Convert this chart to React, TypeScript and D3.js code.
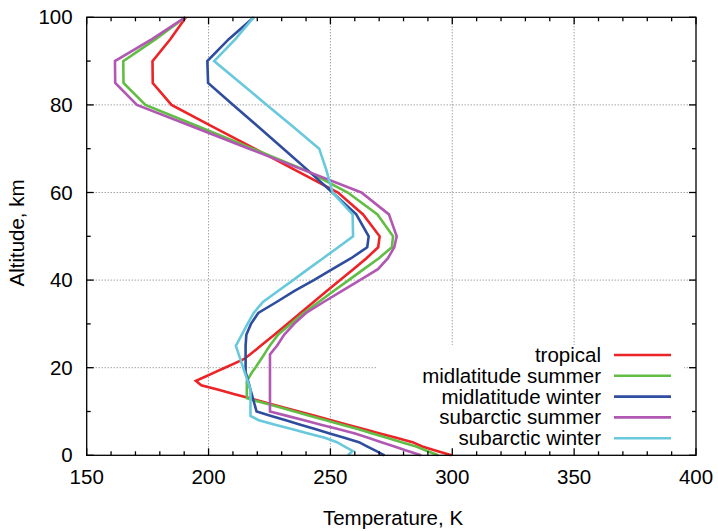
import * as d3 from 'd3';
import React, { useEffect, useRef } from 'react';

// AFGL standard atmospheres, temperature (K) against altitude (km)
const altitudes = [
  0, 1, 2, 3, 4, 5, 6, 7, 8, 9, 10, 11, 12, 13, 14, 15, 16, 17, 18, 19, 20, 21, 22, 23, 24, 25,
  27.5, 30, 32.5, 35, 37.5, 40, 42.5, 45, 47.5, 50, 55, 60, 65, 70, 75, 80, 85, 90, 95, 100,
];
const tropical = [
  299.7, 293.7, 287.7, 283.7, 277.0, 270.3, 263.6, 257.0, 250.3, 243.6, 237.0, 230.1, 223.6, 217.0,
  210.3, 203.7, 197.0, 194.8, 198.8, 202.7, 206.7, 210.7, 214.6, 217.0, 219.2, 221.4, 227.0, 232.3,
  237.7, 243.1, 248.5, 254.0, 259.4, 264.8, 269.6, 270.2, 263.4, 253.1, 236.0, 218.9, 201.8, 184.8,
  177.1, 177.0, 184.3, 190.7,
];
const midlatSummer = [
  294.2, 289.7, 285.2, 279.2, 273.2, 267.2, 261.2, 254.7, 248.2, 241.7, 235.3, 228.8, 222.3, 215.8,
  215.7, 215.7, 215.7, 215.7, 216.8, 217.9, 219.2, 220.4, 221.6, 222.8, 223.9, 225.1, 228.45, 233.7,
  239.0, 245.2, 251.3, 257.5, 263.7, 269.9, 275.2, 275.7, 269.3, 257.1, 240.1, 218.1, 196.1, 174.1,
  165.1, 165.0, 178.3, 190.5,
];
const midlatWinter = [
  272.2, 268.7, 265.2, 261.7, 255.7, 249.7, 243.7, 237.7, 231.7, 225.7, 219.7, 219.2, 218.7, 218.2,
  217.7, 217.2, 216.7, 216.2, 215.7, 215.2, 215.2, 215.2, 215.2, 215.2, 215.2, 215.2, 215.5, 217.4,
  220.4, 227.9, 235.1, 243.2, 250.8, 258.5, 265.1, 265.7, 260.6, 250.8, 240.9, 230.7, 220.4, 210.1,
  199.8, 199.5, 208.3, 218.6,
];
const subarcticSummer = [
  287.2, 281.7, 276.3, 270.9, 265.5, 260.1, 253.1, 246.1, 239.2, 232.2, 225.2, 225.2, 225.2, 225.2,
  225.2, 225.2, 225.2, 225.2, 225.2, 225.2, 225.2, 225.2, 225.2, 225.2, 226.6, 228.1, 231.0, 235.1,
  240.0, 247.2, 254.6, 262.1, 269.5, 273.6, 276.2, 277.2, 274.0, 262.7, 239.7, 216.6, 193.6, 170.6,
  161.7, 161.6, 176.8, 190.4,
];
const subarcticWinter = [
  257.2, 259.1, 255.9, 252.7, 247.7, 240.9, 234.1, 227.3, 220.6, 217.2, 217.2, 217.2, 217.2, 217.2,
  217.2, 217.2, 216.6, 216.0, 215.4, 214.8, 214.2, 213.6, 213.0, 212.4, 211.8, 211.2, 213.6, 216.0,
  218.5, 222.3, 228.5, 234.7, 240.8, 247.0, 253.2, 259.3, 259.1, 250.9, 248.4, 245.4, 234.7, 223.9,
  213.1, 202.3, 211.0, 218.5,
];

const seriesNames = [
  'tropical',
  'midlatitude summer',
  'midlatitude winter',
  'subarctic summer',
  'subarctic winter',
];
const seriesValues = [tropical, midlatSummer, midlatWinter, subarcticSummer, subarcticWinter];
const colors = ['#ec2327', '#62bd45', '#2f4d9f', '#b158b3', '#68c9dc'];

const xTicks = [150, 200, 250, 300, 350, 400];
const yTicks = [0, 20, 40, 60, 80, 100];

const W = 718;
const H = 531;
const M = { left: 86.7, right: 696, top: 17.3, bottom: 455.3 };
const FONT = '"Liberation Sans", Arial, sans-serif';

const App = () => {
  const svgRef = useRef(null);

  useEffect(() => {
    const svg = d3.select(svgRef.current);
    svg.selectAll('*').remove();

    const x = d3.scaleLinear().domain([150, 400]).range([M.left, M.right]);
    const y = d3.scaleLinear().domain([0, 100]).range([M.bottom, M.top]);

    // grid
    const grid = svg.append('g').attr('stroke', '#777').attr('stroke-width', 1).attr('stroke-dasharray', '1,2');
    xTicks.slice(1, -1).forEach((t) => {
      grid.append('line').attr('x1', x(t)).attr('x2', x(t)).attr('y1', M.top).attr('y2', M.bottom);
    });
    yTicks.slice(1, -1).forEach((t) => {
      grid.append('line').attr('x1', M.left).attr('x2', M.right).attr('y1', y(t)).attr('y2', y(t));
    });

    // opaque key box
    svg.append('rect').attr('x', 376).attr('y', 345).attr('width', 308).attr('height', 110).attr('fill', '#fff');

    // profiles
    const profile = d3
      .line<number>()
      .x((d) => x(d))
      .y((d, i) => y(altitudes[i]));
    seriesValues.forEach((vals, i) => {
      svg
        .append('path')
        .attr('d', profile(vals))
        .attr('fill', 'none')
        .attr('stroke', colors[i])
        .attr('stroke-width', 2.6)
        .attr('stroke-linejoin', 'miter');
    });

    // frame and ticks on all sides
    const frame = svg.append('g').attr('stroke', '#000').attr('stroke-width', 1.3);
    frame
      .append('rect')
      .attr('x', M.left)
      .attr('y', M.top)
      .attr('width', M.right - M.left)
      .attr('height', M.bottom - M.top)
      .attr('fill', 'none');
    d3.range(150, 401, 10).forEach((t) => {
      const len = t % 50 === 0 ? 7 : 4;
      frame.append('line').attr('x1', x(t)).attr('x2', x(t)).attr('y1', M.bottom).attr('y2', M.bottom - len);
      frame.append('line').attr('x1', x(t)).attr('x2', x(t)).attr('y1', M.top).attr('y2', M.top + len);
    });
    d3.range(0, 101, 10).forEach((t) => {
      const len = t % 20 === 0 ? 7 : 4;
      frame.append('line').attr('x1', M.left).attr('x2', M.left + len).attr('y1', y(t)).attr('y2', y(t));
      frame.append('line').attr('x1', M.right).attr('x2', M.right - len).attr('y1', y(t)).attr('y2', y(t));
    });

    // tick labels
    const labels = svg.append('g').attr('font-family', FONT).attr('font-size', 20.5).attr('fill', '#000');
    xTicks.forEach((t) => {
      labels.append('text').attr('x', x(t)).attr('y', M.bottom + 29).attr('text-anchor', 'middle').text(t);
    });
    yTicks.forEach((t) => {
      labels
        .append('text')
        .attr('x', M.left - 14)
        .attr('y', y(t) + 7)
        .attr('text-anchor', 'end')
        .text(t);
    });

    // axis titles
    labels
      .append('text')
      .attr('x', 393)
      .attr('y', 525)
      .attr('text-anchor', 'middle')
      .text('Temperature, K');
    labels
      .append('text')
      .attr('transform', 'translate(24,233) rotate(-90)')
      .attr('text-anchor', 'middle')
      .text('Altitude, km');

    // legend
    const legend = svg.append('g').attr('font-family', FONT).attr('font-size', 20.5);
    seriesNames.forEach((name, i) => {
      const cy = 355 + i * 20.8;
      legend
        .append('text')
        .attr('x', 601)
        .attr('y', cy + 7)
        .attr('text-anchor', 'end')
        .text(name);
      legend
        .append('line')
        .attr('x1', 614)
        .attr('x2', 671)
        .attr('y1', cy)
        .attr('y2', cy)
        .attr('stroke', colors[i])
        .attr('stroke-width', 2.6);
    });
  }, []);

  return (
    <div style={{ position: 'absolute', left: 0, top: 0 }}>
      <svg ref={svgRef} width={W} height={H} style={{ display: 'block', background: '#fff' }} />
    </div>
  );
};

export default App;
